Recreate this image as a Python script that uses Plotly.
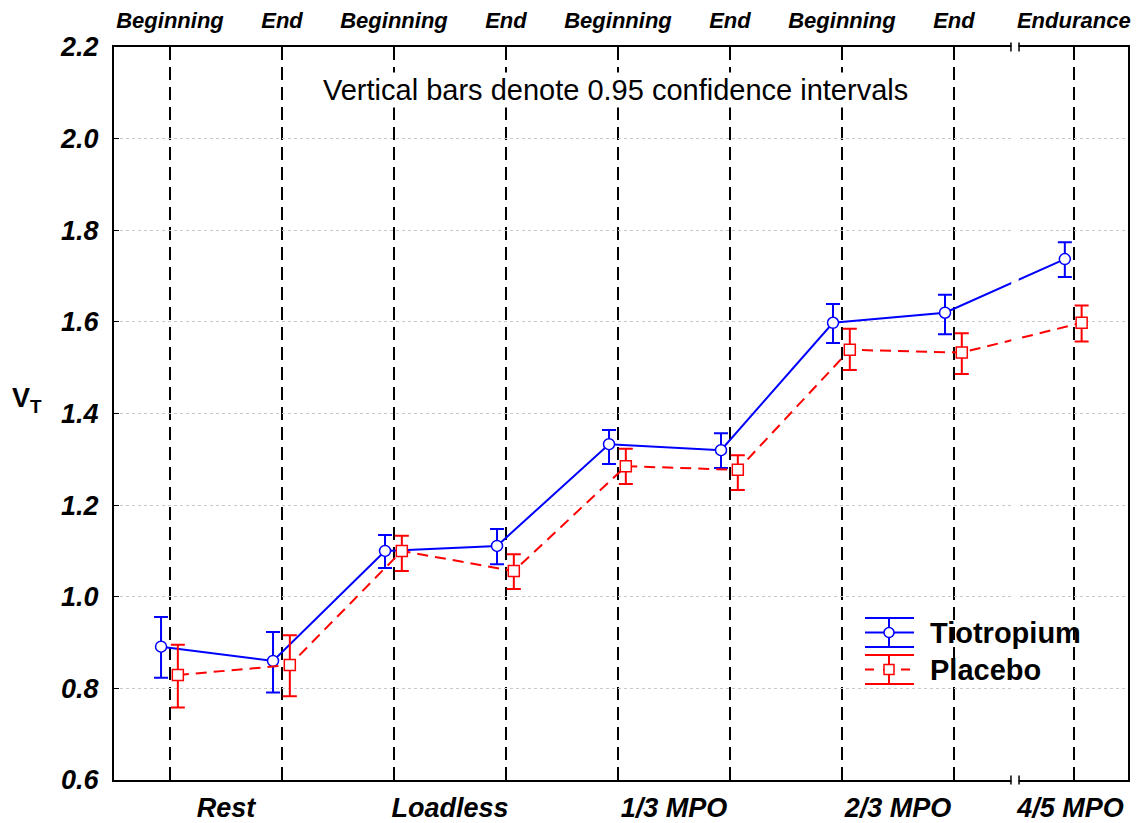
import plotly.graph_objects as go

# ---------------- data ----------------
phase_labels = ["Beginning", "End", "Beginning", "End", "Beginning", "End",
                "Beginning", "End", "Endurance"]
stage_labels = ["Rest", "Loadless", "1/3 MPO", "2/3 MPO", "4/5 MPO"]

tio_mean = [0.891, 0.860, 1.100, 1.111, 1.333, 1.320, 1.598, 1.620, 1.737]
tio_low = [0.823, 0.791, 1.063, 1.071, 1.290, 1.281, 1.554, 1.573, 1.698]
tio_high = [0.956, 0.923, 1.135, 1.148, 1.364, 1.357, 1.639, 1.659, 1.774]

pla_mean = [0.829, 0.851, 1.100, 1.056, 1.285, 1.277, 1.539, 1.533, 1.598]
pla_low = [0.758, 0.783, 1.056, 1.017, 1.246, 1.233, 1.495, 1.486, 1.557]
pla_high = [0.895, 0.916, 1.133, 1.093, 1.323, 1.309, 1.585, 1.575, 1.636]

y_ticks = [0.6, 0.8, 1.0, 1.2, 1.4, 1.6, 1.8, 2.0, 2.2]

# ---------------- layout helpers ----------------
W, H = 1145, 823
L, R, T, B = 114, 17, 47, 43
PW, PH = W - L - R, H - T - B
FONT = "Arial, Liberation Sans, sans-serif"

BREAK_SHIFT = 0.07           # extra gap after the axis break
pos = [float(i) for i in range(8)] + [8 + BREAK_SHIFT]
break_x = 7.545
stage_pos = [0.5, 2.5, 4.5, 6.5, pos[8] - 0.03]
x_range = [-0.5, 8.554]
off_t, off_p = -0.08, 0.07


def xp(px):
    return (px - L) / PW


def yp(py):
    return (H - B - py) / PH


fig = go.Figure()

fig.add_trace(go.Scatter(
    x=[p + off_t for p in pos], y=tio_mean, mode="lines+markers",
    name="Tiotropium", showlegend=False,
    line=dict(color="#0000ff", width=2),
    marker=dict(symbol="circle", size=11, color="white",
                line=dict(color="#0000ff", width=1.5)),
    error_y=dict(type="data", symmetric=False,
                 array=[h - m for h, m in zip(tio_high, tio_mean)],
                 arrayminus=[m - lo for m, lo in zip(tio_mean, tio_low)],
                 color="#0000ff", thickness=2, width=7),
))
fig.add_trace(go.Scatter(
    x=[p + off_p for p in pos], y=pla_mean, mode="lines+markers",
    name="Placebo", showlegend=False,
    line=dict(color="#ff0000", width=2, dash="11px,7px"),
    marker=dict(symbol="square", size=11, color="white",
                line=dict(color="#ff0000", width=1.5)),
    error_y=dict(type="data", symmetric=False,
                 array=[h - m for h, m in zip(pla_high, pla_mean)],
                 arrayminus=[m - lo for m, lo in zip(pla_mean, pla_low)],
                 color="#ff0000", thickness=2, width=7),
))
# invisible trace to activate the bottom axis
fig.add_trace(go.Scatter(x=stage_pos, y=[None] * len(stage_pos), xaxis="x2",
                         showlegend=False, hoverinfo="skip"))

tickfont_top = dict(family=FONT, size=22, color="black", weight="bold", style="italic")
tickfont_bot = dict(family=FONT, size=27, color="black", weight="bold", style="italic")
tickfont_y = dict(family=FONT, size=27, color="black", weight="bold", style="italic")

fig.update_layout(
    width=W, height=H, margin=dict(l=L, r=R, t=T, b=B, autoexpand=False),
    paper_bgcolor="white", plot_bgcolor="white",
    xaxis=dict(range=x_range, side="top", tickmode="array", tickvals=pos,
               ticktext=phase_labels, tickfont=tickfont_top, automargin=False,
               showgrid=True, gridcolor="black", gridwidth=2, griddash="13px,7px",
               showline=True, linecolor="black", linewidth=2, mirror=True,
               ticks="", zeroline=False, ticklabelstandoff=8),
    xaxis2=dict(range=x_range, overlaying="x", side="bottom", tickmode="array",
                tickvals=stage_pos, ticktext=stage_labels, tickfont=tickfont_bot,
                showgrid=False, showline=False, ticks="", zeroline=False,
                automargin=False, ticklabelstandoff=9),
    yaxis=dict(range=[0.6, 2.2], tickmode="array", tickvals=y_ticks,
               ticktext=[f"{v:.1f}" for v in y_ticks], tickfont=tickfont_y,
               showgrid=True, gridcolor="#c8c8c8", gridwidth=1, griddash="dot",
               showline=True, linecolor="black", linewidth=2, mirror=True,
               ticks="inside", ticklen=5, tickwidth=1, tickcolor="black",
               zeroline=False, ticklabelstandoff=8, automargin=False),
)

shapes = []
# axis break: white gap + small ticks on the frame
shapes.append(dict(type="rect", xref="x", yref="paper", x0=break_x - 0.033,
                   x1=break_x + 0.033, y0=-0.01, y1=1.01, fillcolor="white",
                   line=dict(width=0), layer="above"))
for dx in (-0.036, 0.036):
    for yy in (0, 1):
        shapes.append(dict(type="line", xref="x", yref="paper",
                           x0=break_x + dx, x1=break_x + dx,
                           y0=yy - 0.006, y1=yy + 0.006,
                           line=dict(color="black", width=1.5), layer="above"))

# legend
shapes.append(dict(type="rect", xref="paper", yref="paper", x0=xp(860), x1=xp(1090),
                   y0=yp(692), y1=yp(608), fillcolor="white", line=dict(width=0),
                   layer="between"))
lx0, lx1, lxc = 865, 914, 889
for color, ys, dash in (("#0000ff", (618, 632.5, 647), "solid"),
                        ("#ff0000", (655, 669.5, 684), "dash")):
    for i, yy in enumerate(ys):
        shapes.append(dict(type="line", xref="paper", yref="paper",
                           x0=xp(lx0), x1=xp(lx1), y0=yp(yy), y1=yp(yy),
                           line=dict(color=color, width=2,
                                     dash=dash if i == 1 else "solid"),
                           layer="above"))
    shapes.append(dict(type="line", xref="paper", yref="paper", x0=xp(lxc), x1=xp(lxc),
                       y0=yp(ys[0]), y1=yp(ys[2]), line=dict(color=color, width=2),
                       layer="above"))
shapes.append(dict(type="circle", xref="paper", yref="paper",
                   x0=xp(lxc - 5), x1=xp(lxc + 5), y0=yp(632.5 + 5), y1=yp(632.5 - 5),
                   fillcolor="white", line=dict(color="#0000ff", width=1.5), layer="above"))
shapes.append(dict(type="rect", xref="paper", yref="paper",
                   x0=xp(lxc - 5), x1=xp(lxc + 5), y0=yp(669.5 + 5), y1=yp(669.5 - 5),
                   fillcolor="white", line=dict(color="#ff0000", width=1.5), layer="above"))

annotations = [
    dict(text="Tiotropium", xref="paper", yref="paper", x=xp(928), y=yp(632.5),
         xanchor="left", yanchor="middle", showarrow=False,
         font=dict(family=FONT, size=29, color="black", weight="bold")),
    dict(text="Placebo", xref="paper", yref="paper", x=xp(928), y=yp(669.5),
         xanchor="left", yanchor="middle", showarrow=False,
         font=dict(family=FONT, size=29, color="black", weight="bold")),
    dict(text="Vertical bars denote 0.95 confidence intervals", xref="paper",
         yref="paper", x=xp(615), y=yp(90), xanchor="center", yanchor="middle",
         showarrow=False, bgcolor="white",
         font=dict(family=FONT, size=29, color="black")),
    dict(text="V<sub>T</sub>", xref="paper", yref="paper", x=xp(10), y=yp(400),
         xanchor="left", yanchor="middle", showarrow=False,
         font=dict(family=FONT, size=27, color="black", weight="bold")),
]

fig.update_layout(shapes=shapes, annotations=annotations)
fig.write_html("out.html")
